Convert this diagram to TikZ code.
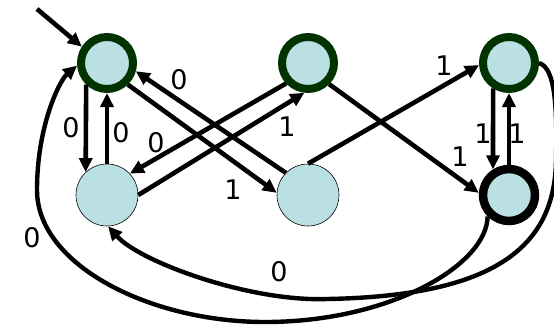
\documentclass[tikz,border=0pt]{standalone}
\usepackage{fontspec}
\setmainfont{DejaVu Sans}
\usetikzlibrary{arrows.meta}
\definecolor{stfill}{RGB}{187,224,227}
\definecolor{dkgreen}{RGB}{0,51,0}
\begin{document}
\begin{tikzpicture}[x=1pt,y=-1pt,
  stnode/.style={circle,fill=stfill,inner sep=0pt},
  greenst/.style={stnode,draw=dkgreen,line width=8pt,minimum size=52pt},
  plainst/.style={stnode,draw=black,line width=0.6pt,minimum size=62pt},
  finalst/.style={stnode,draw=black,line width=8.5pt,minimum size=52pt},
  arr/.style={line width=4.6pt,-{Triangle[length=14pt,width=13pt]}},
  arrc/.style={line width=4.4pt,-{Triangle[length=14pt,width=13pt]}},
  lbl/.style={font=\fontsize{27}{30}\selectfont,inner sep=0pt}]
\useasboundingbox (0,0) rectangle (554,327);
% states
\node[greenst] (A) at (107,63) {};
\node[greenst] (B) at (308,63) {};
\node[greenst] (C) at (509,63) {};
\node[plainst] (D) at (107,195) {};
\node[plainst] (E) at (308,195) {};
\node[finalst] (F) at (509,195) {};
% initial arrow
\coordinate (init) at (37,9);
\draw[arr] (init) -- (A.147);
% straight transitions
\draw[arr] (A.-134) -- (D.133);
\draw[arr] (D.90) -- (A.-90);
\draw[arr] (B.-137) -- (D.43);
\draw[arr] (D.0) -- (B.-97);
\draw[arr] (E.135) -- (A.-16);
\draw[arr] (A.-46) -- (E.176);
\draw[arr] (E.90) -- (C.184);
\draw[arr] (B.-45) -- (F.176);
\draw[arr] (C.-122) -- (F.122);
\draw[arr] (F.90) -- (C.-90);
% long curves
\draw[arrc] (F.-135) .. controls (487,265) and (390,322) .. (265,322)
  .. controls (150,322) and (37,265) .. (37,190)
  .. controls (37,125) and (60,80) .. (A.185);
\draw[arrc] (C.0) .. controls (556,68) and (557,110) .. (556,160)
  .. controls (555,250) and (490,296) .. (327,299)
  .. controls (250,302) and (140,262) .. (D.-88);
% labels
\node[lbl] (l1) at (71,128) {0};
\node[lbl] (l2) at (121,133) {0};
\node[lbl] (l3) at (156,143) {0};
\node[lbl] (l4) at (287,127) {1};
\node[lbl] (l5) at (179,80) {0};
\node[lbl] (l6) at (233,190) {1};
\node[lbl] (l7) at (444,66) {1};
\node[lbl] (l8) at (460,157) {1};
\node[lbl] (l9) at (483,134) {1};
\node[lbl] (l10) at (517,134) {1};
\node[lbl] (l11) at (32,238) {0};
\node[lbl] (l12) at (279,272) {0};
\end{tikzpicture}
\end{document}
